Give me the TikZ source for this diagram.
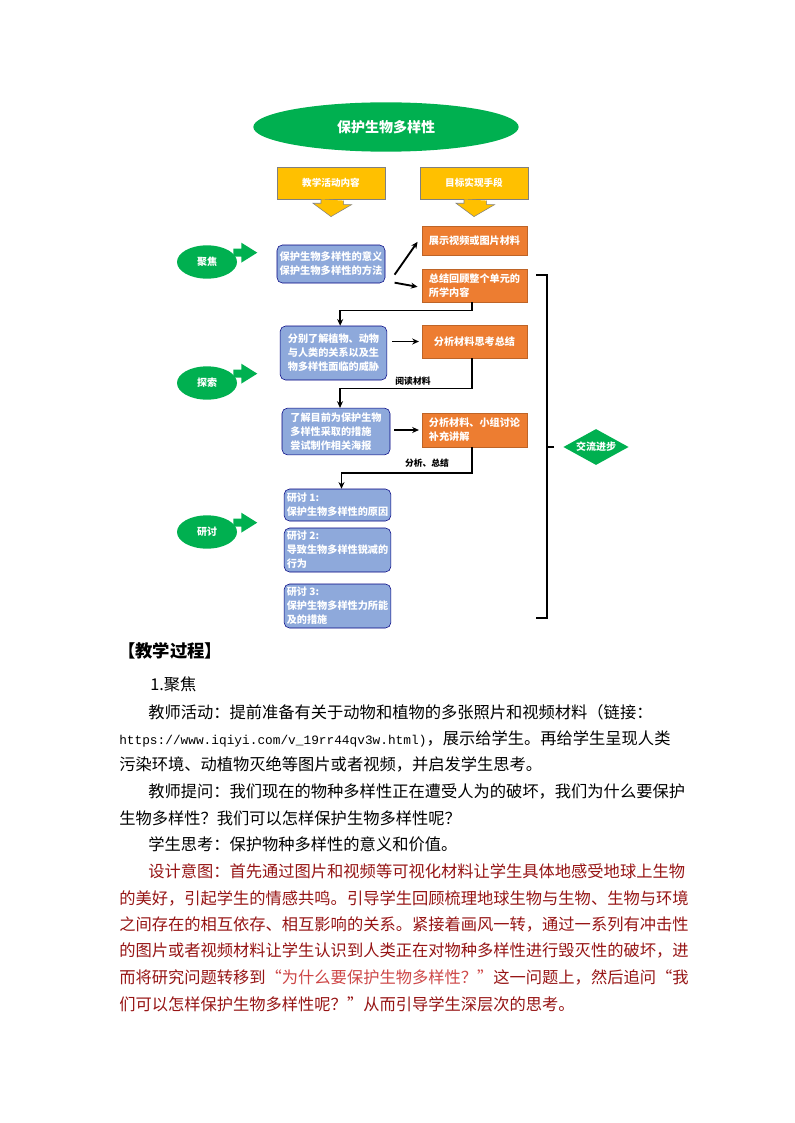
\documentclass[tikz,border=0pt]{standalone}
\usepackage{fontspec}
\setmainfont{Noto Sans CJK SC}
\setmonofont{Liberation Mono}
\usetikzlibrary{shapes.geometric,arrows.meta}
\definecolor{leafgreen}{RGB}{0,176,80}
\definecolor{gold}{RGB}{255,192,0}
\definecolor{steelblue}{RGB}{142,169,219}
\definecolor{rust}{RGB}{237,125,49}
\definecolor{inkred}{RGB}{150,20,20}
\definecolor{softred}{RGB}{205,70,70}
\begin{document}
\begin{tikzpicture}[x=0.75pt,y=-0.75pt,
% common options for the boxes:
bluebox/.style = {draw=blue!50!black, fill=steelblue, rounded corners=4pt, text=white,
            font=\fontsize{7.6}{10.5}\selectfont\bfseries, align=left, inner sep=2pt},
orangebox/.style = {draw=rust!80!black, fill=rust, text=white,
            font=\fontsize{7.6}{10.5}\selectfont\bfseries, align=left, inner sep=3pt},
goldbox/.style = {draw=gray, fill=gold, text=white, font=\fontsize{7.2}{9}\selectfont\bfseries,
            minimum width=81pt, minimum height=24pt},
fish/.style = {ellipse, fill=leafgreen, text=white, font=\fontsize{7.5}{9}\selectfont\bfseries,
            minimum width=45pt, minimum height=25pt, inner sep=0},
link/.style = {line width=1.4pt, -{Stealth[length=5pt,width=4.5pt]}},
note/.style = {font=\fontsize{6.6}{8}\selectfont\bfseries},
body/.style = {anchor=base west, inner sep=0, font=\fontsize{12.2}{14}\selectfont}]
\useasboundingbox (0,0) rectangle (794,1123);
% title
\node[ellipse, fill=leafgreen, text=white, minimum width=199pt, minimum height=37pt,
      font=\fontsize{10.5}{12}\selectfont\bfseries] (title) at (386,127) {保护生物多样性};
% column heads
\node[goldbox] (headA) at (331,183) {教学活动内容};
\node[goldbox] (headB) at (474,183) {目标实现手段};
\foreach \h in {headA,headB}
  \draw[gray, fill=gold] ([xshift=-7.5pt]\h.south) -- ++(0,4) -- ++(-8,0) -- ([yshift=-13pt]\h.south)
     -- ([xshift=15.5pt,yshift=-4pt]\h.south) -- ++(-8,0) -- ++(0,-4);
% stages
\foreach \n/\t/\y in {focus/聚焦/262, explore/探索/383, discuss/研讨/532} {
  \node[fish] (\n) at (207,\y) {\t};
  \fill[leafgreen] ([xshift=-3pt,yshift=4pt]\n.east) -- ++(8,0) -- ++(0,6) -- ++(16,-10)
     -- ++(-16,-10) -- ++(0,6) -- ++(-8,0) -- cycle;
}
% teaching content
\node[bluebox, minimum width=81pt, minimum height=28.5pt, font=\fontsize{7.7}{10.5}\selectfont\bfseries]
   (meaning) at (331,264) {保护生物多样性的意义\\保护生物多样性的方法};
\node[bluebox, minimum width=80pt, minimum height=40.5pt] (relation) at (333.5,353)
   {分别了解植物、动物\\与人类的关系以及生\\物多样性面临的威胁};
\node[bluebox, minimum width=81pt, minimum height=35pt] (measure) at (336,431.5)
   {了解目前为保护生物\\多样性采取的措施\\尝试制作相关海报};
\node[bluebox, minimum width=80pt, minimum height=24pt] (talkA) at (337.5,505)
   {研讨 1:\\保护生物多样性的原因};
\node[bluebox, minimum width=80pt, minimum height=33pt] (talkB) at (337.5,550)
   {研讨 2:\\导致生物多样性锐减的\\行为};
\node[bluebox, minimum width=80pt, minimum height=33pt] (talkC) at (337.5,606)
   {研讨 3:\\保护生物多样性力所能\\及的措施};
% means
\node[orangebox, minimum width=79pt, minimum height=22pt] (show) at (474.5,240.5) {展示视频或图片材料};
\node[orangebox, minimum width=79pt, minimum height=25pt] (review) at (474.5,285.5) {总结回顾整个单元的\\所学内容};
\node[orangebox, minimum width=79pt, minimum height=25pt, align=center] (analyse) at (474.5,341.5) {分析材料思考总结};
\node[orangebox, minimum width=79pt, minimum height=25.5pt] (group) at (474.5,430) {分析材料、小组讨论\\补充讲解};
% connectors
\draw[link] ([xshift=7pt,yshift=-8pt]meaning.east) -- ([xshift=-3pt,yshift=-1pt]show.west);
\draw[link] ([xshift=7pt,yshift=-14pt]meaning.east) -- ([xshift=-3pt,yshift=-1pt]review.west);
\draw[link] ([xshift=4pt]relation.east |- analyse) -- ([xshift=-2pt]analyse.west);
\draw[link] ([xshift=3pt]measure.east |- group) -- ([xshift=-2pt]group.west);
\draw[link] ([xshift=-2pt]review.south) -- ++(0,8) -| ([xshift=5pt]relation.north);
\draw[link] ([xshift=-2pt]analyse.south) -- ++(0,30) -| ([xshift=3pt]measure.north);
\draw[link] ([xshift=-2pt]group.south) -- ++(0,26) -| ([xshift=3pt]talkA.north);
\node[note] (read) at (413,381) {阅读材料};
\node[note] (sum) at (427,463) {分析、总结};
% exchange
\coordinate (braceTop) at (536,275);
\coordinate (braceBot) at (536,618);
\coordinate (braceTip) at (554,447);
\draw[line width=1.2pt] (braceTop) -- ++(11,0) -- ++(0,343) -- (braceBot);
\draw[line width=1.2pt] (braceTip) -- ++(-7,0);
\node[diamond, fill=leafgreen, text=white, minimum width=49pt, minimum height=27pt, aspect=1.8,
      inner sep=0, font=\fontsize{7.5}{9}\selectfont\bfseries] (share) at (596,447) {交流进步};
% text
\node[body, font=\fontsize{13}{14}\selectfont\bfseries] (head) at (118,657) {【教学过程】};
\node[body] (step) at (150,690) {1.聚焦};
\node[body] (l1) at (148,718) {教师活动：提前准备有关于动物和植物的多张照片和视频材料（链接：};
\node[body] (l2) at (119,744) {{\ttfamily\fontsize{9.6}{12}\selectfont https://www.iqiyi.com/v\_19rr44qv3w.html)}，展示给学生。再给学生呈现人类};
\node[body] (l3) at (119,770) {污染环境、动植物灭绝等图片或者视频，并启发学生思考。};
\node[body] (l4) at (148,797) {教师提问：我们现在的物种多样性正在遭受人为的破坏，我们为什么要保护};
\node[body] (l5) at (119,824) {生物多样性？我们可以怎样保护生物多样性呢？};
\node[body] (l6) at (148,850) {学生思考：保护物种多样性的意义和价值。};
\begin{scope}[every node/.append style={text=inkred}]
\node[body] (r1) at (148,877) {设计意图：首先通过图片和视频等可视化材料让学生具体地感受地球上生物};
\node[body] (r2) at (119,904) {的美好，引起学生的情感共鸣。引导学生回顾梳理地球生物与生物、生物与环境};
\node[body] (r3) at (119,930) {之间存在的相互依存、相互影响的关系。紧接着画风一转，通过一系列有冲击性};
\node[body] (r4) at (119,956) {的图片或者视频材料让学生认识到人类正在对物种多样性进行毁灭性的破坏，进};
\node[body] (r5) at (119,983) {而将研究问题转移到{\color{softred}“为什么要保护生物多样性？”}这一问题上，然后追问“我};
\node[body] (r6) at (119,1010) {们可以怎样保护生物多样性呢？”从而引导学生深层次的思考。};
\end{scope}
\end{tikzpicture}
\end{document}
